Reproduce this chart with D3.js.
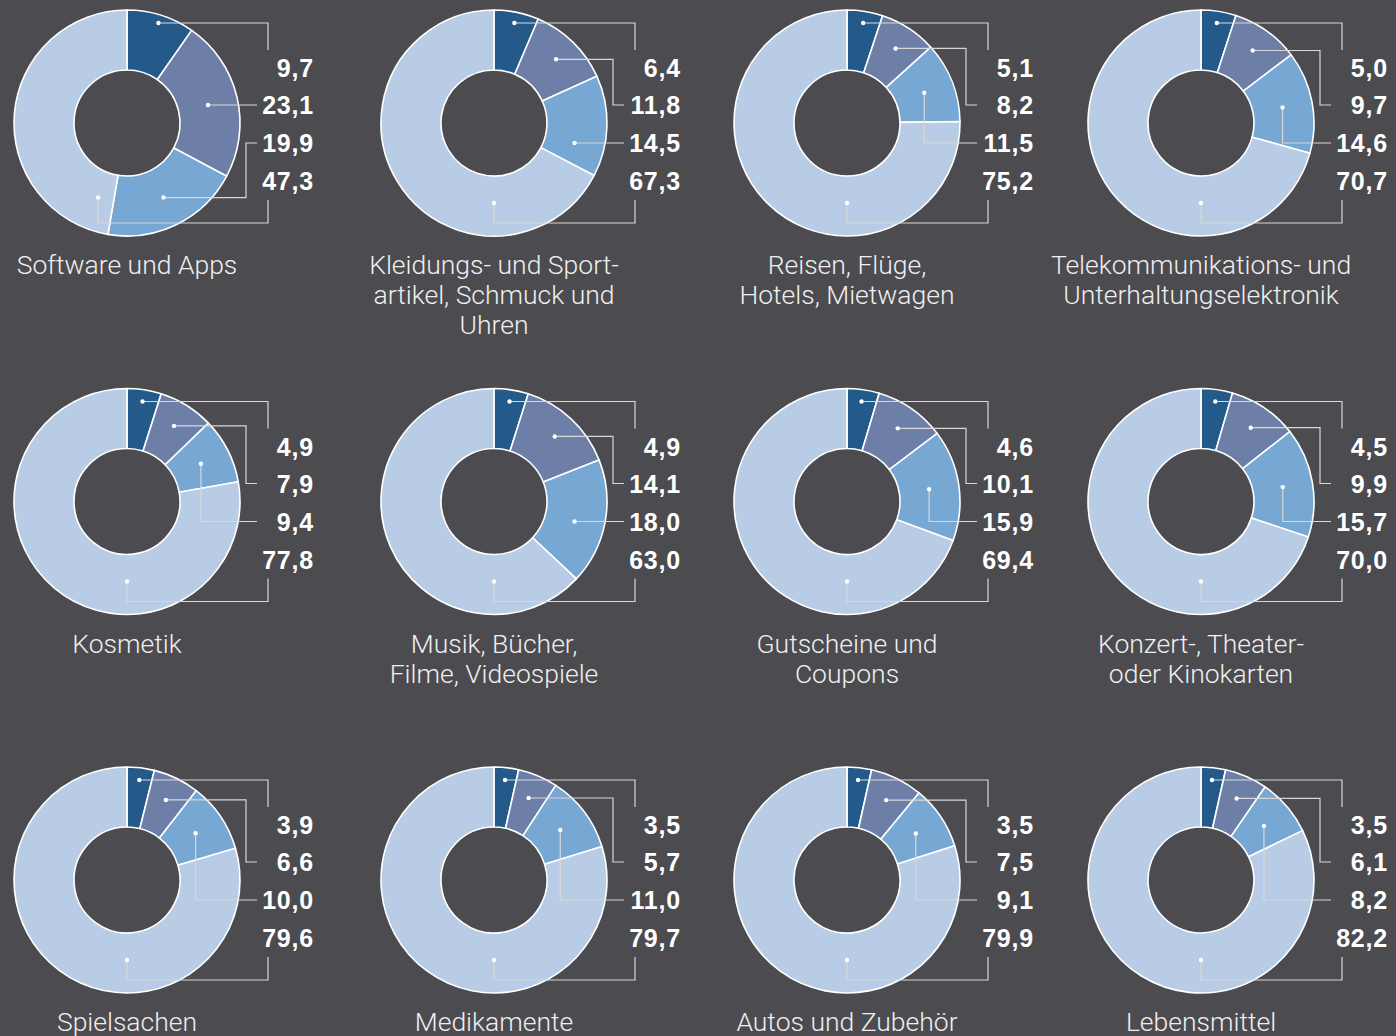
<!DOCTYPE html>
<html>
<head>
<meta charset="utf-8">
<script src="https://cdn.jsdelivr.net/npm/d3@7"></script>
<style>
  html, body { margin: 0; padding: 0; background: #4b4b50; }
  svg { display: block; }
</style>
</head>
<body>
<svg id="chart" width="1396" height="1036"></svg>
<script>
// Product categories (title lines as set under each ring)
const categories = [
  ["Software und Apps"],
  ["Kleidungs- und Sport-", "artikel, Schmuck und", "Uhren"],
  ["Reisen, Flüge,", "Hotels, Mietwagen"],
  ["Telekommunikations- und", "Unterhaltungselektronik"],
  ["Kosmetik"],
  ["Musik, Bücher,", "Filme, Videospiele"],
  ["Gutscheine und", "Coupons"],
  ["Konzert-, Theater-", "oder Kinokarten"],
  ["Spielsachen"],
  ["Medikamente"],
  ["Autos und Zubehör"],
  ["Lebensmittel"]
];

// Shares in percent, one array per ring segment (clockwise from 12 o'clock)
const series1 = [9.7, 6.4, 5.1, 5.0, 4.9, 4.9, 4.6, 4.5, 3.9, 3.5, 3.5, 3.5];
const series2 = [23.1, 11.8, 8.2, 9.7, 7.9, 14.1, 10.1, 9.9, 6.6, 5.7, 7.5, 6.1];
const series3 = [19.9, 14.5, 11.5, 14.6, 9.4, 18.0, 15.9, 15.7, 10.0, 11.0, 9.1, 8.2];
const series4 = [47.3, 67.3, 75.2, 70.7, 77.8, 63.0, 69.4, 70.0, 79.6, 79.7, 79.9, 82.2];

const seriesColors = ["#245a8a", "#6d7fa7", "#77a7d3", "#b8cce5"];

// Grid layout
const colX = [127, 494, 847, 1201];
const rowY = [123, 501.5, 880];
const rOuter = 113, rInner = 53;
const rMid = (rOuter + rInner) / 2;
const labelX = 187;                   // right edge of value labels, relative to ring centre
const labelBase = [-46, -9, 29, 67];  // baselines of the four value labels
const labelMid = labelBase.map(b => b - 9);
const colOuter = 141, colInner = 119, lineEnd = 130;

const svg = d3.select("#chart");
const pie = d3.pie().sort(null).value(d => d);
const arc = d3.arc().innerRadius(rInner).outerRadius(rOuter);

const pt = (a, r) => [r * Math.sin(a), -r * Math.cos(a)];
const fmt = v => d3.format(".1f")(v).replace(".", ",");

categories.forEach((lines, i) => {
  const cx = colX[i % 4], cy = rowY[Math.floor(i / 4)];
  const vals = [series1[i], series2[i], series3[i], series4[i]];
  const arcs = pie(vals);
  const g = svg.append("g").attr("transform", `translate(${cx},${cy})`);

  g.selectAll("path.slice").data(arcs).join("path")
    .attr("class", "slice")
    .attr("d", arc)
    .attr("fill", (d, k) => seriesColors[k])
    .attr("stroke", "#ffffff")
    .attr("stroke-width", 1.6)
    .attr("stroke-linejoin", "round");

  // Leader lines from each segment to its value label
  const leaders = arcs.map((d, k) => {
    const mid = (d.startAngle + d.endAngle) / 2;
    const ly = labelMid[k];
    if (k === 0) {
      const y = -100;
      const x = 100 * Math.tan(mid);
      return { dot: [x, y], path: [[x, y], [colOuter, y], [colOuter, labelMid[0] - 18]] };
    }
    if (k === 3) {
      const a = Math.min(Math.max(Math.PI, d.startAngle + 0.2), d.endAngle - 0.2);
      const p = pt(a, 80);
      return { dot: p, path: [p, [p[0], 100], [colOuter, 100], [colOuter, labelMid[3] + 19]] };
    }
    const c = pt(mid, rMid);
    // straight connection when the label row crosses the segment near its centroid
    if (Math.abs(c[1] - ly) < 25) {
      const x = Math.sqrt(rMid * rMid - ly * ly);
      const a = Math.atan2(x, -ly);
      if (a >= d.startAngle && a <= d.endAngle) {
        return { dot: [x, ly], path: [[x, ly], [lineEnd, ly]] };
      }
    }
    if (c[1] < ly && k === 2) {
      return { dot: c, path: [c, [c[0], ly], [lineEnd, ly]] };
    }
    const p = k === 1 ? pt(mid, 89) : c;
    return { dot: p, path: [p, [colInner, p[1]], [colInner, ly], [lineEnd, ly]] };
  });

  g.selectAll("path.leader").data(leaders).join("path")
    .attr("class", "leader")
    .attr("d", d => d3.line()(d.path))
    .attr("fill", "none")
    .attr("stroke", "#d8d8d8")
    .attr("stroke-width", 1.2);

  g.selectAll("circle.dot").data(leaders).join("circle")
    .attr("class", "dot")
    .attr("cx", d => d.dot[0])
    .attr("cy", d => d.dot[1])
    .attr("r", 2.2)
    .attr("fill", "#ffffff");

  g.selectAll("text.value").data(vals).join("text")
    .attr("class", "value")
    .attr("x", labelX)
    .attr("y", (d, k) => labelBase[k])
    .attr("text-anchor", "end")
    .attr("fill", "#ffffff")
    .style("font-family", "'Liberation Sans', Arial, sans-serif")
    .style("font-weight", "700")
    .style("font-size", "25px")
    .style("letter-spacing", "0.8px")
    .text(fmt);

  const t = g.append("text")
    .attr("text-anchor", "middle")
    .attr("fill", "#efefef")
    .style("font-family", "Roboto, 'Open Sans', sans-serif")
    .style("font-weight", "300")
    .style("font-size", "26.5px");
  t.selectAll("tspan").data(lines).join("tspan")
    .attr("x", 0)
    .attr("y", (d, j) => 151 + j * 30)
    .text(d => d);
});
</script>
</body>
</html>
